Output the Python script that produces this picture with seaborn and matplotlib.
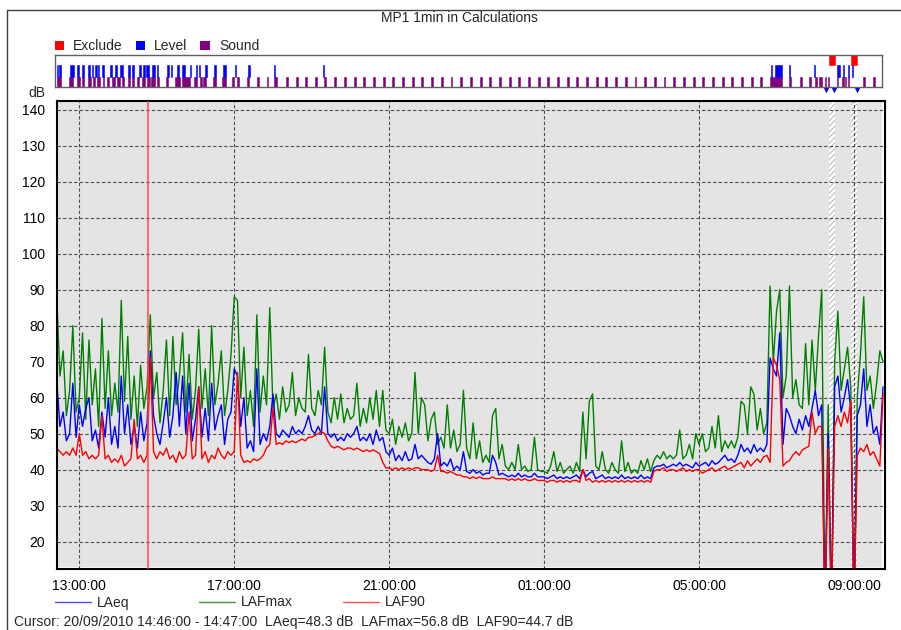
import pandas as pd
import seaborn as sns
import matplotlib.pyplot as plt
import matplotlib.dates as mdates
from matplotlib.lines import Line2D
from matplotlib.patches import Rectangle

# 5-minute values, starting 20/09/2010 12:25
lafmax = [
    88, 66, 73, 55, 62, 80, 56,                          # 12:25
    60, 78, 54, 76, 58, 68, 52, 82, 57, 73, 55, 64,      # 13:00
    56, 87, 59, 77, 54, 66, 52, 69, 57, 63, 83, 60,      # 14:00
    67, 53, 62, 76, 55, 77, 58, 66, 78, 56, 72, 54,      # 15:00
    62, 79, 57, 68, 55, 80, 58, 64, 73, 55, 62, 72,      # 16:00
    88, 87, 60, 74, 55, 62, 52, 83, 56, 66, 58, 85,      # 17:00
    57, 61, 54, 63, 56, 58, 67, 55, 60, 57, 56, 72,      # 18:00
    57, 55, 62, 58, 74, 56, 53, 60, 54, 61, 53, 57,      # 19:00
    54, 55, 64, 52, 57, 53, 60, 54, 62, 52, 62, 51,      # 20:00
    50, 54, 47, 52, 49, 53, 48, 50, 67, 50, 60, 58,      # 21:00
    48, 54, 56, 47, 49, 46, 58, 46, 51, 45, 47, 62,      # 22:00
    46, 43, 53, 43, 48, 42, 44, 42, 55, 57, 43, 47,      # 23:00
    41, 40, 42, 40, 47, 40, 41, 39.5, 40, 49, 40, 39.5,  # 00:00
    39.5, 39, 41, 45, 39.5, 42, 39, 40, 41, 39, 42, 39.5,  # 01:00
    56, 43, 59, 61, 41, 40, 45, 40, 39, 42, 40, 39,      # 02:00
    48, 39.5, 42, 39, 40, 39, 42.5, 40, 43, 39.5, 42.5, 44,  # 03:00
    43, 45, 43, 44, 43, 44, 51, 43, 44, 47, 43, 50,      # 04:00
    47, 50, 45, 46, 52, 46, 55, 45, 48, 46, 48, 46,      # 05:00
    49, 59, 58, 50, 63, 61, 51, 57, 50, 53, 91, 70,      # 06:00
    84, 90, 60, 66, 91, 60, 65, 58, 57, 75, 58, 76,      # 07:00
    62, 77, 90, 0, 58, 0, 70, 84, 62, 68, 74, 63,        # 08:00
    0, 60, 72, 88, 62, 66, 57, 64, 73, 70,               # 09:00
]
laeq = [
    65, 52, 56, 48, 50, 64, 49,
    58, 52, 57, 60, 48, 51, 46, 56, 49, 60, 47, 52,
    46, 66, 50, 58, 47, 52, 46, 56, 48, 53, 73, 55,
    50, 47, 53, 60, 49, 55, 67, 52, 66, 50, 64, 48,
    54, 63, 49, 57, 48, 64, 51, 55, 58, 47, 54, 56,
    68, 66, 52, 60, 46, 48, 45, 68, 47, 50, 48, 52,
    61, 50, 49, 51, 50, 49, 52, 50, 51, 50, 52, 55,
    51, 50, 52, 50, 63, 50, 49, 50, 48, 49, 48, 50,
    49, 50, 52, 48, 49, 48, 50, 47, 51, 48, 49, 45,
    44, 46, 42.5, 44, 42.5, 45, 42.5, 43, 47, 43, 44, 43,
    42, 41.5, 43, 50, 41, 42, 41, 43, 40, 41, 40, 45,
    39.5, 39, 40, 39, 39.5, 38.5, 39, 39, 44, 42, 38.5, 39,
    38.5, 38, 38.5, 38, 39, 38, 38.5, 38, 38, 39, 38, 38,
    38, 37.5, 38, 38.5, 37.5, 38, 37.5, 38, 37.5, 38, 38.5, 37.5,
    40, 38, 39, 39.5, 37.5, 38, 38.5, 37.5, 38, 37.5, 38, 37.5,
    38.5, 37.5, 38, 37.5, 38, 37.5, 38.5, 37.5, 38, 37.5, 40.5, 41,
    41, 41.5, 40.5, 41, 41.5, 41, 42, 41, 41.5, 41, 40.5, 42,
    41, 41.5, 42, 41, 42.5, 41.5, 42, 43, 44, 42.5, 43, 42,
    44, 47, 45, 46, 44.5, 47, 45, 46, 45, 47, 71, 68,
    66, 78, 47, 57, 55, 52, 50, 54, 51, 55, 52, 57,
    62, 55, 58, 0, 50, 0, 63, 66, 56, 60, 65, 57,
    0, 55, 58, 68, 52, 58, 50, 52, 47, 63,
]
laf90 = [
    46, 45, 44, 45, 44, 46, 44,
    50, 44, 45, 43, 44, 43, 44, 55, 43, 44, 42, 43,
    42, 44, 41, 42, 43, 54, 43, 44, 42, 44, 71, 45,
    43, 45, 44, 46, 43, 44, 42, 45, 43, 44, 56, 43,
    44, 63, 43, 45, 42, 44, 43, 46, 44, 43, 45, 44,
    45, 67, 44, 42, 42.5, 42, 43, 42.5, 43, 44, 46, 47,
    57, 47, 47.5, 47, 48, 47.5, 48, 47.5, 48, 48.5, 48, 49,
    49, 49.5, 50, 50.5, 50, 48, 46.5, 46, 46.5, 46, 45.5, 46,
    46, 45.5, 46, 45.5, 45, 45.5, 45, 45.5, 45, 44.5, 42, 40.5,
    40.5, 40, 40.5, 40, 40.5, 40, 40.5, 40, 40.5, 40.5, 40, 40,
    40, 39.5, 40, 44, 39.5, 39.5, 39, 39.5, 39, 38.5, 38.5, 38,
    38, 37.5, 38, 37.5, 38, 37.5, 37.5, 37.5, 38, 37.5, 37.5, 37.5,
    37.5, 37, 37.5, 37, 37.5, 37, 37.5, 37, 37, 37.5, 37, 37,
    37, 36.5, 37, 37, 36.5, 37, 36.5, 37, 36.5, 37, 37, 36.5,
    40, 37, 37.5, 36.5, 37, 36.5, 37, 36.5, 37, 36.5, 37, 36.5,
    37, 36.5, 37, 36.5, 37, 36.5, 37, 36.5, 37, 36.5, 39.5, 40,
    40, 40.5, 39.5, 40, 40, 39.5, 40, 40.5, 39.5, 40, 39.5, 40,
    40, 39, 39.5, 40, 40.5, 39.5, 40, 40.5, 41, 40, 40.5, 41,
    41.5, 42, 40.5, 42.5, 41, 42, 43, 42, 43.5, 44, 42, 71,
    69, 65, 41, 42, 42.5, 44, 45, 44, 45.5, 46, 46.5, 56,
    50, 52, 52, 0, 46, 0, 52, 55, 52, 56, 53, 59,
    0, 44, 46, 45, 47, 44, 45, 43, 41, 61,
]

# event strip: (start, minutes)
sound_marks = [
    ("12:25", 7), ("12:44", 7), ("12:56", 5), ("13:04", 3), ("13:13", 5),
    ("13:21", 3), ("13:27", 5), ("13:37", 2), ("13:43", 3), ("13:51", 5),
    ("13:58", 5), ("14:06", 3), ("14:15", 4), ("14:22", 2), ("14:29", 4),
    ("14:37", 5), ("14:45", 4), ("14:51", 6), ("15:00", 3), ("15:14", 3),
    ("15:29", 7), ("15:39", 12), ("15:58", 4), ("16:07", 3), ("16:12", 5),
    ("16:27", 5), ("16:41", 7), ("16:56", 3), ("17:04", 4),
    ("17:20", 3), ("17:35", 3), ("17:50", 3), ("18:02", 5), ("18:20", 3),
    ("18:35", 3), ("18:50", 3), ("19:05", 3), ("19:19", 3), ("19:35", 3),
    ("19:50", 3), ("20:05", 3), ("20:20", 3), ("20:35", 3), ("20:50", 3),
    ("21:05", 3), ("21:20", 3), ("21:35", 3), ("21:50", 3), ("22:05", 3),
    ("22:20", 3), ("22:35", 3), ("22:50", 3), ("23:05", 3), ("23:20", 3),
    ("23:35", 3), ("23:50", 3), ("00:05", 3), ("00:20", 3), ("00:35", 3),
    ("00:50", 3), ("01:05", 3), ("01:20", 3), ("01:35", 3), ("01:50", 3),
    ("02:05", 3), ("02:20", 3), ("02:35", 3), ("02:50", 3), ("03:05", 3),
    ("03:20", 3), ("03:35", 3), ("03:50", 3), ("04:05", 3), ("04:20", 3),
    ("04:35", 3), ("04:50", 3), ("05:05", 3), ("05:20", 3), ("05:35", 3),
    ("05:50", 3), ("06:05", 3), ("06:20", 3), ("06:35", 3),
    ("06:50", 18), ("07:20", 3), ("07:36", 3), ("07:51", 3), ("08:00", 2),
    ("08:05", 2), ("08:08", 3), ("08:15", 2), ("08:19", 2), ("08:33", 2),
    ("08:42", 2), ("08:46", 2), ("08:50", 2), ("09:14", 3), ("09:29", 3),
    ("09:43", 3),
]
level_marks = [
    ("12:25", 2), ("12:29", 3), ("12:46", 6), ("12:56", 3), ("13:04", 4),
    ("13:14", 3), ("13:20", 2), ("13:24", 4), ("13:29", 2), ("13:35", 3),
    ("13:47", 3), ("13:55", 3), ("14:03", 4), ("14:16", 2), ("14:22", 2),
    ("14:32", 3), ("14:39", 3), ("14:43", 5), ("14:53", 5), ("15:00", 2),
    ("15:16", 3), ("15:22", 2), ("15:31", 4), ("15:39", 5), ("15:51", 2),
    ("16:00", 3), ("16:05", 2), ("16:15", 3), ("16:28", 3), ("16:43", 4),
    ("17:01", 2), ("17:22", 2), ("18:01", 2), ("19:17", 2),
    ("06:51", 2), ("06:58", 10), ("07:19", 2), ("07:58", 2), ("08:34", 2),
    ("08:37", 2), ("08:43", 2), ("08:50", 2), ("08:57", 2),
]
exclude_marks = [("08:21", 9), ("08:56", 9)]
flag_times = ["08:16", "08:29", "09:05"]
cursor_time = "14:46"

sns.set_style("white")
plt.rcParams["font.family"] = ["Liberation Sans", "DejaVu Sans"]
plt.rcParams["hatch.linewidth"] = 0.6

W, H = 901, 630


def fx(x):
    return x / W


def fy(y):
    return 1 - y / H


def clock(s):
    h, m = map(int, s.split(":"))
    day = 20 if h >= 12 else 21
    return pd.Timestamp(2010, 9, day, h, m)


def num(s):
    return mdates.date2num(clock(s))


times = pd.date_range("2010-09-20 12:25", periods=len(laeq), freq="5min")
df = pd.DataFrame({"time": times, "LAeq": laeq, "LAFmax": lafmax, "LAF90": laf90})
long = df.melt(id_vars="time", var_name="series", value_name="dB")

fig = plt.figure(figsize=(9.01, 6.30), dpi=100)

# main chart
ax_l, ax_r, ax_t, ax_b = 56.7, 885, 101, 569
ax = fig.add_axes([fx(ax_l), fy(ax_b), fx(ax_r) - fx(ax_l), fy(ax_t) - fy(ax_b)])
t_start, t_end = num("12:25"), num("09:48")
px_per_day = (ax_r - ax_l) / (t_end - t_start)

ax.set_facecolor("white")
gray_end = (882.3 - ax_l) / (ax_r - ax_l)
ax.add_patch(Rectangle((0, 0.004), gray_end, 0.996, transform=ax.transAxes,
                       facecolor="#e4e4e4", edgecolor="none", zorder=0.2))
for s, d in exclude_marks:
    ax.axvspan(num(s), num(s) + d / 1440, facecolor="white", edgecolor="#a8a8a8",
               hatch="//////", linewidth=0, zorder=0.3)

sns.lineplot(data=long, x="time", y="dB", hue="series",
             hue_order=["LAFmax", "LAeq", "LAF90"],
             palette={"LAFmax": "#008000", "LAeq": "#0000ff", "LAF90": "#ff0000"},
             estimator=None, linewidth=1.0, legend=False, ax=ax)
ax.axvline(num(cursor_time), color="#ff4040", linewidth=1.2, alpha=0.85, zorder=3)

ax.set_xlim(t_start, t_end)
ax.set_ylim(12.4, 142.4)
ax.set_yticks(range(20, 141, 10))
ax.xaxis.set_major_locator(mdates.HourLocator(byhour=[1, 5, 9, 13, 17, 21]))
ax.xaxis.set_major_formatter(mdates.DateFormatter("%H:%M:%S"))
ax.set_xlabel("")
ax.set_ylabel("")
ax.set_axisbelow(True)
ax.grid(True, color="#505050", linestyle=(0, (3, 2)), linewidth=0.8)
ax.tick_params(axis="both", direction="out", length=4, width=0.8, color="black",
               labelsize=10, labelcolor="black")
ax.tick_params(axis="y", pad=4.5)
ax.tick_params(axis="x", pad=3)
for sp in ax.spines.values():
    sp.set_color("black")
    sp.set_linewidth(1.5)

# event strip
s_l, s_r, s_t, s_b = 55, 882.3, 55, 86.7
sax = fig.add_axes([fx(s_l), fy(s_b), fx(s_r) - fx(s_l), fy(s_t) - fy(s_b)])
sax.set_xlim(t_start + (s_l - ax_l) / px_per_day, t_start + (s_r - ax_l) / px_per_day)
sax.set_ylim(0, 32)
for marks, row, col in [(sound_marks, (0, 10), "#800080"),
                        (level_marks, (10, 11.5), "#0000ff"),
                        (exclude_marks, (21.5, 10.5), "#ff0000")]:
    sax.broken_barh([(num(s), d / 1440) for s, d in marks], row,
                    facecolors=col, edgecolors=col, linewidth=0.4)
sax.scatter([num(s) for s in flag_times], [-3.2] * len(flag_times), marker="v", s=16,
            color="#0000ff", clip_on=False, linewidths=0)
sax.set_xticks([])
sax.set_yticks([])
for sp in sax.spines.values():
    sp.set_color("#606060")
    sp.set_linewidth(1)

# outer frame, title and legends
fig.add_artist(Line2D([fx(7), fx(901)], [fy(10), fy(10)], color="#404040", linewidth=1))
fig.add_artist(Line2D([fx(7), fx(7)], [fy(10), fy(630)], color="#404040", linewidth=1))
fig.text(fx(459.5), fy(18), "MP1 1min in Calculations", ha="center", va="center", fontsize=10)
fig.text(fx(36.5), fy(93), "dB", ha="center", va="center", fontsize=10)

for x0, w, col, label in [(55, 9, "#ff0000", "Exclude"), (136, 9, "#0000ff", "Level"),
                          (200, 10, "#800080", "Sound")]:
    fig.add_artist(Rectangle((fx(x0), fy(49.5)), w / W, 9 / H, transform=fig.transFigure,
                             facecolor=col, edgecolor="none"))
    fig.text(fx(x0 + w + 9), fy(45.5), label, ha="left", va="center", fontsize=10)

for x0, col, label in [(55, "#4a4aff", "LAeq"), (199, "#3c9a3c", "LAFmax"), (343, "#ff5050", "LAF90")]:
    fig.add_artist(Line2D([fx(x0), fx(x0 + 36)], [fy(602), fy(602)], color=col, linewidth=1))
    fig.text(fx(x0 + 42), fy(602.5), label, ha="left", va="center", fontsize=10)

fig.text(fx(14), fy(622),
         "Cursor: 20/09/2010 14:46:00 - 14:47:00  LAeq=48.3 dB  LAFmax=56.8 dB  LAF90=44.7 dB",
         ha="left", va="center", fontsize=10)

fig.savefig("out.png", dpi=100)
